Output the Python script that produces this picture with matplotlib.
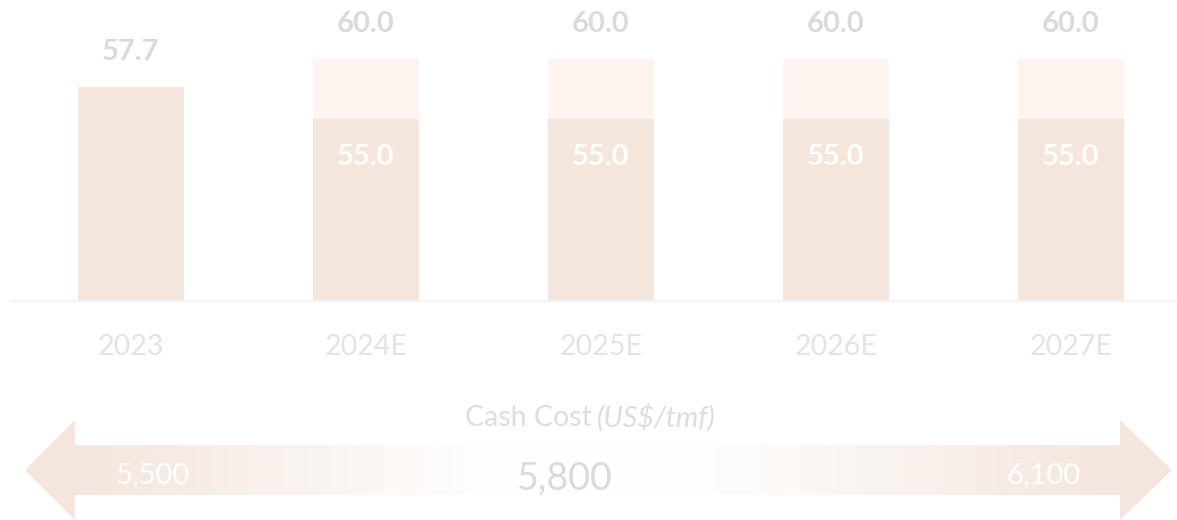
import numpy as np
import matplotlib.pyplot as plt
from matplotlib.patches import Polygon
from matplotlib.colors import to_rgb

# data
years = ["2023", "2024E", "2025E", "2026E", "2027E"]
base_vals = [57.7, 55.0, 55.0, 55.0, 55.0]
upper_vals = [None, 60.0, 60.0, 60.0, 60.0]
cost_low = 5500
cost_mid = 5800
cost_high = 6100
cost_title = "Cash Cost"
cost_unit = "(US$/tmf)"

plt.rcParams['font.family'] = ['Lato', 'DejaVu Sans']

BAR = '#F4E6DC'
BAR_TOP = '#FCF4EE'
GREY = '#DADADA'

fig = plt.figure(figsize=(11.77, 5.2), dpi=100)

# bars
ax = fig.add_axes([12 / 1177, 1 - 301 / 520, 1 - 12 / 1177, 301 / 520])
x = np.arange(len(years))
w = 0.451
ext = [0 if u is None else u - b for u, b in zip(upper_vals, base_vals)]
ax.bar(x, base_vals, width=w, color=BAR)
ax.bar(x, ext, bottom=base_vals, width=w, color=BAR_TOP)
ax.set_xlim(-0.506, 4.451)
ax.set_ylim(39.84, 39.84 + 301 / 12)

for i in range(len(years)):
    top = upper_vals[i] if upper_vals[i] is not None else base_vals[i]
    ax.annotate(f"{top:.1f}", (x[i], top), xytext=(0, 25), textcoords='offset points',
                ha='center', va='center', fontsize=21, fontweight='bold', color=GREY)
    if upper_vals[i] is not None:
        ax.annotate(f"{base_vals[i]:.1f}", (x[i], base_vals[i]), xytext=(0, -27),
                    textcoords='offset points', ha='center', va='center',
                    fontsize=21, fontweight='bold', color='white')

ax.set_xticks(x, years)
ax.tick_params(axis='x', length=0, pad=23.5, labelsize=20.5, labelcolor='#E3E3E3')
ax.set_yticks([])
for s in ['top', 'left', 'right']:
    ax.spines[s].set_visible(False)
ax.spines['bottom'].set_color('#F2F2F2')
ax.spines['bottom'].set_linewidth(1.5)

# cash cost arrow
ax2 = fig.add_axes([0, 0, 1, 130 / 520])
ax2.axis('off')

arrow = Polygon([(25, 50), (75, 100), (75, 75), (1120, 75), (1120, 100), (1172, 50),
                 (1120, 0), (1120, 25), (75, 25), (75, 0)],
                closed=True, facecolor='none', edgecolor='none')
ax2.add_patch(arrow)

xs = np.linspace(0, 1177, 1177)
alpha = np.interp(xs, [0, 75, 490, 690, 1120, 1177], [1, 1, 0.03, 0.03, 1, 1])
c = np.array(to_rgb(BAR))
img = np.ones((2, len(xs), 3))
img[:] = 1 - alpha[None, :, None] * (1 - c[None, None, :])
im = ax2.imshow(img, extent=(0, 1177, 0, 100), aspect='auto', interpolation='bilinear')
im.set_clip_path(arrow)
ax2.set_xlim(0, 1177)
ax2.set_ylim(0, 130)

ax2.text(592, 102, cost_title, ha='right', va='center', fontsize=20.5, color='#DDDDDD')
ax2.text(597, 102, cost_unit, ha='left', va='center', fontsize=20.5, style='italic', color='#DDDDDD')
ax2.text(565, 30, f"{cost_mid:,}", ha='center', va='baseline', fontsize=27, color=GREY)
ax2.text(152, 37, f"{cost_low:,}", ha='center', va='baseline', fontsize=21, color='white')
ax2.text(1043, 37, f"{cost_high:,}", ha='center', va='baseline', fontsize=21, color='white')

plt.savefig('out.png', dpi=100)
